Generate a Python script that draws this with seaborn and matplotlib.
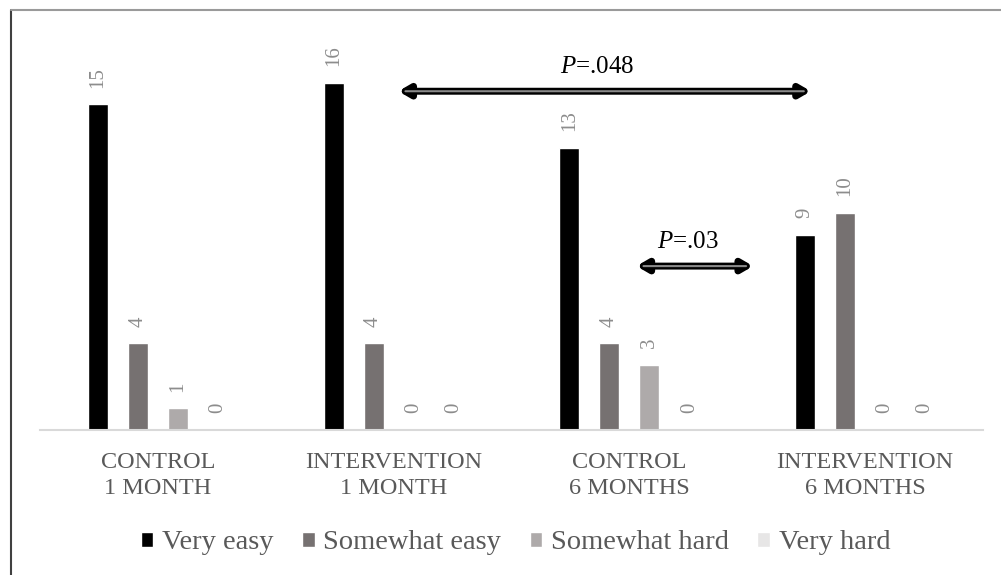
import matplotlib
matplotlib.use('Agg')
import matplotlib.pyplot as plt
import numpy as np
import pandas as pd
import seaborn as sns
from matplotlib.lines import Line2D


groups = ['CONTROL\n1 MONTH', 'INTERVENTION\n1 MONTH', 'CONTROL\n6 MONTHS', 'INTERVENTION\n6 MONTHS']
answers = ['Very easy', 'Somewhat easy', 'Somewhat hard', 'Very hard']
very_easy = [15, 16, 13, 9]
somewhat_easy = [4, 4, 4, 10]
somewhat_hard = [1, 0, 3, 0]
very_hard = [0, 0, 0, 0]
colors = ['#000000', '#767171', '#AEAAAA', '#E7E6E6']

# p-value arrows: (label, start, end, height)
comparisons = [('.048', 1.02, 2.77, 15.6), ('.03', 2.03, 2.525, 7.55)]

df = pd.DataFrame({
    'group': np.repeat(groups, len(answers)),
    'answer': answers * len(groups),
    'count': np.array([very_easy, somewhat_easy, somewhat_hard, very_hard]).T.ravel(),
})

sns.set_style('white')
plt.rcParams['font.family'] = ['Liberation Serif', 'DejaVu Serif']
plt.rcParams['mathtext.fontset'] = 'custom'
plt.rcParams['mathtext.it'] = 'Liberation Serif:italic'
plt.rcParams['mathtext.rm'] = 'Liberation Serif'

fig = plt.figure(figsize=(10.01, 5.75), dpi=100)
ax = fig.add_axes([0.04, 0.252, 0.942, 0.68])

sns.barplot(data=df, x='group', y='count', hue='answer', hue_order=answers,
            palette=colors, width=0.68, gap=0.5, ax=ax, saturation=1)

for cont in ax.containers:
    ax.bar_label(cont, padding=12, rotation=90, color='#8c8c8c', fontsize=15)

ax.set_ylim(0, 18)
ax.set_xlim(-0.5, 3.5)
ax.set(xlabel='', ylabel='', yticks=[])
for side in ['top', 'right', 'left']:
    ax.spines[side].set_visible(False)
ax.spines['bottom'].set_color('#d9d9d9')
ax.spines['bottom'].set_linewidth(1.5)
ax.tick_params(axis='x', length=0, pad=16, labelsize=17.5, labelcolor='#595959')
for t in ax.get_xticklabels():
    t.set_linespacing(1.3)

for label, x0, x1, y in comparisons:
    ax.annotate('', xy=(x1, y), xytext=(x0, y),
                arrowprops=dict(arrowstyle='<|-|>,head_length=0.6,head_width=0.35',
                                color='black', lw=5, shrinkA=0, shrinkB=0))
    ax.annotate('', xy=(x1 - 0.03, y), xytext=(x0 + 0.03, y),
                arrowprops=dict(arrowstyle='-', color='#8a8a8a', lw=1.5,
                                shrinkA=0, shrinkB=0))
    ax.text((x0 + x1) / 2 - 0.03, y + 0.6, '$P$=' + label, ha='center', va='bottom',
            fontsize=18, color='black')

handles, labels = ax.get_legend_handles_labels()
ax.legend_.remove()
fig.legend(handles, labels, loc='center', bbox_to_anchor=(0.515, 0.056), ncol=4,
           frameon=False, fontsize=20.5, labelcolor='#595959',
           handlelength=0.45, handleheight=0.45, handletextpad=0.3, columnspacing=1.0)

# frame of the original figure
fig.add_artist(Line2D([0.011, 0.011], [0, 0.983], transform=fig.transFigure,
                      color='#404040', lw=1.5))
fig.add_artist(Line2D([0.011, 1], [0.983, 0.983], transform=fig.transFigure,
                      color='#9a9a9a', lw=1.5))

fig.savefig('out.png', dpi=100)
